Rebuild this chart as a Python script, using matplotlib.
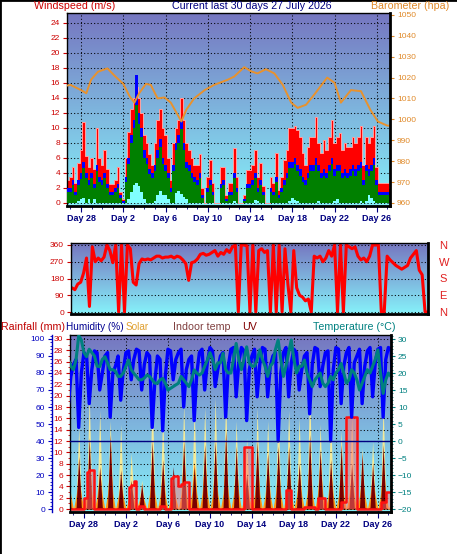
import numpy as np
import matplotlib
matplotlib.use('Agg')
import matplotlib.pyplot as plt
from matplotlib.colors import LinearSegmentedColormap
from matplotlib.lines import Line2D
from matplotlib.ticker import MultipleLocator

plt.rcParams['font.family'] = ['Liberation Sans', 'DejaVu Sans']

# readings every 6 hours (4 per day); first row is two days before "Day 28"
first_day = -2
per_day = 4

day_ticks = [0, 4, 8, 12, 16, 20, 24, 28]
day_labels = ['Day 28', 'Day 2', 'Day 6', 'Day 10', 'Day 14', 'Day 18', 'Day 22', 'Day 26']
compass = ['N', 'E', 'S', 'W', 'N']

# wind (m/s)
gust = [
    3, 3, 3, 3,
    3.5, 4.8, 2.6, 5.3,
    7, 10.8, 6.2, 4.8,
    6, 4.5, 10, 6,
    5, 7, 4.5, 2.5,
    2.5, 3, 4.8, 1.5,
    0.5, 6, 9.5, 12.5,
    14, 15.5, 14, 12,
    9, 8, 6.5, 5,
    8, 11, 12.5, 10,
    9, 6, 3, 8,
    10, 11, 14, 11,
    8, 7, 6, 5,
    5, 6.5, 2, 0,
    3.5, 5.7, 2.6, 0,
    0, 4.8, 4.8, 1,
    2.6, 2.6, 7.3, 3.5,
    0, 0, 1, 4.4,
    4.4, 5, 7, 3.5,
    5.3, 2.2, 0, 0,
    3.5, 2.6, 6.6, 1.7,
    3.5, 5.7, 7, 10,
    10, 10.2, 9.7, 8.8,
    6.6, 5, 7.5, 8.8,
    8.8, 11.5, 8, 6.6,
    8.4, 7, 8.8, 11,
    8, 8.8, 9.3, 7,
    8, 7.5, 7.5, 8.8,
    8, 8.8, 10.2, 5,
    8.8, 8, 8.8, 10.2,
    4.8, 2.6, 2.6, 2.6,
    2.6, 2, 0, 0,
]
wind_avg = [
    2, 2, 2, 2,
    2, 3, 1.5, 3,
    4, 5.5, 4, 3,
    4, 2.5, 5, 3.5,
    3, 4, 2.5, 1.5,
    1.5, 2, 2.5, 1,
    0.3, 3.5, 6, 9,
    11, 17, 12, 10,
    7, 6, 4.5, 4,
    5, 7, 8.5, 6,
    5, 4, 2, 5,
    8, 9, 11, 8,
    5.5, 5, 4, 3.5,
    3, 4, 1, 0,
    2, 3, 1.5, 0,
    0, 2.5, 3, 0.5,
    1.5, 1.5, 4, 2,
    0, 0, 0.5, 2.5,
    2.5, 3, 4, 2,
    3, 1.5, 0, 0,
    2, 1.5, 3.5, 1,
    2, 3, 4, 5.5,
    5.5, 6, 5, 4.5,
    3.5, 3, 4, 5,
    5, 6, 5, 4,
    4.5, 4, 5, 6,
    4.5, 5, 5, 4,
    4.5, 4, 4.5, 5,
    4.5, 5, 5.5, 3,
    5, 4.5, 5, 6,
    3, 1.5, 1.5, 1.5,
    1.5, 1, 0, 0,
]
wind_speed = [
    1.5, 1.5, 1.5, 1.5,
    1.5, 2.4, 1, 2.4,
    3.2, 4.6, 3.3, 2.4,
    3.3, 2, 4.2, 2.8,
    2.4, 3.3, 2, 1,
    1, 1.5, 2, 0.6,
    0, 2.8, 5.2, 8,
    10, 13, 10.5, 8.8,
    6, 5.2, 3.8, 3.3,
    4.2, 6, 7.5, 5.2,
    4.2, 3.3, 1.5, 4.2,
    7, 8, 9.8, 7,
    4.6, 4.2, 3.3, 2.8,
    2.4, 3.3, 0.6, 0,
    1.5, 2.4, 1, 0,
    0, 2, 2.4, 0.3,
    1, 1, 3.3, 1.5,
    0, 0, 0.3, 2,
    2, 2.4, 3.3, 1.5,
    2.4, 1, 0, 0,
    1.5, 1, 2.8, 0.6,
    1.5, 2.4, 3.3, 4.6,
    4.6, 5.2, 4.2, 3.6,
    2.8, 2.4, 3.3, 4.2,
    4.2, 5, 4.2, 3.3,
    3.6, 3.3, 4.2, 5.2,
    3.6, 4.2, 4.2, 3.3,
    3.6, 3.3, 3.6, 4.2,
    3.6, 4.2, 4.6, 2.4,
    4.2, 3.6, 4.2, 5,
    2.4, 1, 1, 1,
    1, 0.6, 0, 0,
]
wind_low = [
    0, 0, 0, 0,
    0, 0, 0, 0.3,
    0.5, 0.6, 0, 0.5,
    0, 0.5, 0, 0,
    0, 0, 0, 0,
    0, 0, 0, 0,
    0, 0, 0.5, 1.5,
    2.4, 2.6, 2.2, 1.5,
    0.5, 0, 0, 0,
    0.3, 1, 1.6, 1,
    1, 0.5, 0, 0,
    1.3, 1.6, 1.2, 0.8,
    0.5, 0, 0, 0,
    0, 0, 0, 0,
    0, 0, 0, 0,
    0, 0, 0, 0,
    0, 0, 0.3, 0,
    0, 0, 0, 0,
    0, 0, 0.4, 0.3,
    0, 0, 0, 0,
    0, 0, 0, 0,
    0, 0, 0, 0.3,
    0.6, 0.4, 0.3, 0,
    0, 0, 0, 0,
    0, 0, 0.3, 0,
    0, 0, 0, 0,
    0.3, 0.5, 0, 0,
    0, 0, 0, 0,
    0, 0, 0.3, 0,
    0.3, 1, 0.6, 0.3,
    0, 0, 0, 0,
    0, 0, 0, 0,
]

# barometer (hpa), read at irregular points
baro_day = [-1.5, -1, 0, 0.5, 0.95, 1.6, 2.5, 3.15, 4, 4.6, 5.05, 5.5, 6.15, 6.6,
            7.25, 7.9, 8.5, 9.5, 9.95, 10.7, 11.7, 12.6, 13.9, 14.5, 15.45, 16.1,
            16.7, 17.5, 18.3, 19.1, 19.9, 20.5, 21.3, 22.1, 23.3, 24.0, 24.6,
            25.55, 26.5, 27.4, 28.1, 29.0, 29.3]
baro_hpa = [1016, 1016.5, 1014, 1012.5, 1019, 1022.8, 1024.4, 1021, 1017, 1011,
            1008, 1012.5, 1017, 1016.5, 1010, 1010.5, 1008, 999, 1004.5, 1010,
            1014, 1016.5, 1019, 1020.5, 1025, 1023, 1022, 1024, 1022, 1016.5,
            1008, 1005.5, 1007, 1012, 1020, 1017.5, 1008, 1014, 1013.5, 1004.5,
            999, 997, 997]

# wind direction (degrees)
wind_dir = [
    130, 130, 130, 130,
    120, 150, 160, 210,
    290, 30, 350, 270,
    290, 275, 295, 360,
    330, 265, 360, 0,
    360, 0, 360, 340,
    160, 145, 260, 285,
    280, 285, 280, 290,
    300, 300, 290, 295,
    295, 300, 290, 300,
    295, 280, 260, 170,
    265, 270, 285, 310,
    315, 305, 310, 320,
    330, 300, 320, 310,
    335, 320, 350, 360,
    0, 360, 360, 355,
    0, 360, 0, 330,
    340, 320, 330, 0,
    360, 0, 360, 0,
    340, 150, 0, 330,
    130, 90, 80, 60,
    70, 0, 300, 290,
    300, 270, 290, 330,
    300, 360, 0, 360,
    0, 360, 350, 340,
    350, 300, 280, 290,
    270, 300, 360, 360,
    360, 0, 0, 300,
    280, 265, 250, 240,
    230, 240, 250, 290,
    310, 330, 225, 200,
    0, 0, 0, 0,
]

# humidity (%)
humidity = [
    88, 90, 60, 78,
    85, 88, 48, 80,
    92, 90, 62, 82,
    93, 92, 70, 80,
    90, 92, 54, 80,
    84, 90, 64, 82,
    92, 93, 76, 88,
    94, 93, 70, 85,
    92, 90, 48, 75,
    90, 88, 46, 78,
    94, 93, 76, 88,
    92, 94, 60, 82,
    88, 90, 52, 80,
    92, 94, 70, 86,
    95, 93, 72, 82,
    90, 92, 54, 84,
    94, 95, 66, 86,
    95, 93, 52, 82,
    90, 94, 66, 85,
    95, 94, 66, 84,
    90, 92, 40, 80,
    92, 95, 66, 86,
    94, 92, 70, 82,
    90, 92, 56, 85,
    95, 94, 72, 84,
    92, 93, 40, 82,
    95, 94, 62, 84,
    92, 95, 54, 86,
    90, 94, 62, 84,
    93, 95, 66, 86,
    94, 95, 54, 88,
    95, 94, 60, 80,
]

# outdoor temperature (C)
temperature = [
    22, 21, 24, 22,
    21, 24, 31, 29.7,
    26, 24.8, 27, 26,
    25, 22, 21.9, 24,
    24.8, 23, 21, 21,
    20.5, 19, 19, 20,
    22, 23.8, 21, 19.9,
    19, 18, 18, 18.5,
    19.4, 19, 18, 17,
    17, 18, 18.4, 17,
    15, 15.5, 16, 16.5,
    17, 19, 18, 17,
    16, 18, 20.9, 20,
    19.4, 20, 22, 23.8,
    26, 24, 21, 23,
    23, 25.8, 21, 20,
    20, 24, 28.7, 24,
    21, 24, 27.7, 23,
    22, 22, 24, 26.8,
    24, 22, 19, 22,
    23, 27, 29.7, 24,
    19, 22, 26, 29.7,
    24, 20, 22, 22,
    23.8, 20, 18, 16,
    18, 19, 20, 17,
    16, 17, 19, 18,
    20, 21, 22.8, 20,
    17, 18, 21, 20,
    18, 15, 17, 19,
    21, 20, 22, 24,
    26.8, 20, 14, 18,
    20, 19, 18, 18,
]

# rainfall (mm)
rain = [
    0, 0, 0, 0,
    0, 0, 0, 0,
    2, 6.5, 6.8, 6.8,
    0, 0, 0, 0,
    0, 0, 0, 0,
    0, 0, 0, 0,
    0, 3.9, 4.2, 5,
    0, 0.5, 0.5, 0,
    0, 0, 0, 0,
    0, 0.6, 0.6, 0,
    0, 5.5, 5.9, 5.9,
    4, 4.5, 4.7, 4.7,
    0, 0, 0, 0,
    0, 0, 0, 0,
    0, 0, 0, 0,
    0, 0, 0, 0,
    0, 0, 0, 0,
    0, 11, 11, 11,
    0, 0, 0, 0,
    0, 0, 0, 0,
    0, 0, 0, 0,
    0, 3.4, 3.4, 0,
    0, 0, 0, 0,
    0.4, 0.4, 0.4, 0.4,
    0, 1.9, 1.9, 1.9,
    0, 0, 0, 0,
    0, 0, 1.2, 1.2,
    16.2, 16.2, 16.2, 16.2,
    0, 0, 0, 0,
    0, 0, 0, 0,
    0, 1.2, 1.2, 3,
    3, 3, 0, 0,
]

# solar and UV, read as height on the 0-100 humidity scale
solar_max = [
    0, 5, 50, 5,
    0, 5, 48, 5,
    0, 5, 68, 5,
    0, 5, 58, 5,
    0, 5, 52, 5,
    0, 5, 50, 5,
    0, 5, 33, 5,
    0, 5, 17, 5,
    0, 5, 70, 5,
    0, 5, 56, 5,
    0, 5, 19, 5,
    0, 5, 62, 5,
    0, 5, 60, 5,
    0, 5, 60, 5,
    0, 5, 66, 5,
    0, 5, 66, 5,
    0, 5, 52, 5,
    0, 5, 42, 5,
    0, 5, 60, 5,
    0, 5, 52, 5,
    0, 5, 62, 5,
    0, 5, 58, 5,
    0, 5, 54, 5,
    0, 5, 72, 5,
    0, 5, 50, 5,
    0, 5, 56, 5,
    0, 5, 46, 5,
    0, 5, 54, 5,
    0, 5, 36, 5,
    0, 5, 40, 5,
    0, 5, 62, 5,
    0, 5, 20, 5,
]
solar = [
    0, 8, 18, 8,
    0, 8, 20, 8,
    0, 9, 26, 9,
    0, 8, 22, 8,
    0, 9, 30, 9,
    0, 7, 16, 7,
    0, 6, 14, 6,
    0, 5, 10, 5,
    0, 9, 30, 9,
    0, 8, 24, 8,
    0, 6, 14, 6,
    0, 9, 32, 9,
    0, 9, 28, 9,
    0, 9, 30, 9,
    0, 9, 30, 9,
    0, 9, 32, 9,
    0, 9, 28, 9,
    0, 7, 18, 7,
    0, 9, 30, 9,
    0, 8, 26, 8,
    0, 9, 28, 9,
    0, 9, 28, 9,
    0, 8, 22, 8,
    0, 9, 32, 9,
    0, 9, 28, 9,
    0, 8, 24, 8,
    0, 8, 26, 8,
    0, 8, 22, 8,
    0, 8, 22, 8,
    0, 8, 20, 8,
    0, 9, 28, 9,
    0, 4, 8, 4,
]
uv = [
    0, 1, 30, 1,
    0, 1, 31, 1,
    0, 1, 42, 1,
    0, 1, 25, 1,
    0, 1, 44, 1,
    0, 1, 23, 1,
    0, 1, 17, 1,
    0, 1, 15, 1,
    0, 1, 40, 1,
    0, 1, 29, 1,
    0, 1, 25, 1,
    0, 1, 40, 1,
    0, 1, 25, 1,
    0, 1, 38, 1,
    0, 1, 40, 1,
    0, 1, 46, 1,
    0, 1, 37, 1,
    0, 1, 21, 1,
    0, 1, 40, 1,
    0, 1, 33, 1,
    0, 1, 37, 1,
    0, 1, 37, 1,
    0, 1, 27, 1,
    0, 1, 44, 1,
    0, 1, 35, 1,
    0, 1, 29, 1,
    0, 1, 38, 1,
    0, 1, 27, 1,
    0, 1, 33, 1,
    0, 1, 27, 1,
    0, 1, 38, 1,
    0, 1, 10, 1,
]

t = first_day + np.arange(len(gust)) / per_day

W, H = 457, 554
fig = plt.figure(figsize=(W / 100, H / 100), dpi=100)
fig.patch.set_facecolor('white')


def box(x0, y0, x1, y1):
    return fig.add_axes([x0 / W, 1 - y1 / H, (x1 - x0) / W, (y1 - y0) / H])


def label(x, y, s, color, size=7.7):
    fig.text(x / W, 1 - y / H, s, color=color, fontsize=size, va='center', ha='left')


sky = LinearSegmentedColormap.from_list('sky', ['#7676c0', '#86f2fa'])
dots = dict(color='black', linestyle=(0, (1, 2.2)), linewidth=0.75)
XLIM = (-1.33, 29.25)


def backdrop(ax):
    ax.imshow(np.linspace(0, 1, 256).reshape(-1, 1), cmap=sky, aspect='auto',
              extent=(0, 1, 0, 1), transform=ax.transAxes, zorder=0)


def day_axis(ax):
    ax.set_xticks(day_ticks, day_labels)
    ax.xaxis.set_minor_locator(MultipleLocator(1))
    ax.tick_params(axis='x', which='both', direction='out', colors='#000080',
                   labelsize=6.5, pad=2)
    ax.tick_params(axis='x', which='major', length=4)
    ax.tick_params(axis='x', which='minor', length=2.5)
    for lb in ax.get_xticklabels():
        lb.set_fontweight('bold')
    ax.xaxis.grid(True, **dots)


def frame(ax, left=1, top=1, bottom=2, right=0):
    for side, w in [('left', left), ('top', top), ('bottom', bottom), ('right', right)]:
        if w:
            ax.spines[side].set_linewidth(w)
            ax.spines[side].set_color('black')
        else:
            ax.spines[side].set_visible(False)


# ---- wind speed / barometer ----
ax1 = box(67, 13, 390, 206)
backdrop(ax1)
ax1.set_axisbelow(True)
ax1.fill_between(t, gust, step='mid', color='#ff0000', lw=0, zorder=2)
ax1.step(t, gust, where='mid', color='#ffa0a0', lw=0.7, zorder=2)
ax1.fill_between(t, wind_avg, step='mid', color='#0000ff', lw=0, zorder=3)
ax1.fill_between(t, wind_speed, step='mid', color='#008000', lw=0, zorder=4)
ax1.fill_between(t, wind_low, step='mid', color='#80ffff', lw=0, zorder=5)
ax1.set_xlim(XLIM)
ax1.set_ylim(-0.4, 25.33)
ax1.set_yticks(range(0, 25, 2))
ax1.yaxis.grid(True, **dots)
ax1.tick_params(axis='y', colors='#cc0000', labelsize=6, length=3, pad=2)
day_axis(ax1)
frame(ax1)

ax1b = ax1.twinx()
ax1b.plot(baro_day, baro_hpa, color='#e8922e', lw=1.4)
ax1b.set_ylim(958.56, 1050.9)
ax1b.set_yticks(range(960, 1051, 10))
ax1b.tick_params(axis='y', colors='#e08a2a', labelsize=6, length=3, pad=2)
frame(ax1b, left=0, top=0, bottom=0, right=2)

# ---- wind direction ----
ax2 = box(71, 243, 428, 314)
backdrop(ax2)
ax2.set_axisbelow(True)
ax2.plot(t, wind_dir, color='#ff0000', lw=2.2, zorder=2)
ax2.set_xlim(XLIM)
ax2.set_ylim(-10.7, 370.7)
ax2.set_yticks([0, 90, 180, 270, 360])
ax2.set_xticks([])
ax2.yaxis.grid(True, **dots)
ax2.tick_params(axis='y', colors='#cc0000', labelsize=6, length=3, pad=2)
frame(ax2)

ax2r = ax2.twinx()
ax2r.set_ylim(ax2.get_ylim())
ax2r.set_yticks([0, 90, 180, 270, 360], compass)
ax2r.tick_params(axis='y', length=0, colors='#e02020', labelsize=8, pad=8)
frame(ax2r, left=0, top=0, bottom=0, right=2)

# ---- humidity / rain / solar / temperature ----
ax3 = box(70, 335, 391, 512)
backdrop(ax3)
ax3.set_axisbelow(True)
ax3.fill_between(t, solar_max, color='#f4ea98', lw=0, zorder=2)
ax3.fill_between(t, solar, color='#ff9818', lw=0, zorder=3)
ax3.fill_between(t, uv, color='#7a0000', lw=0, zorder=4)
ax3.set_xlim(XLIM)
ax3.set_ylim(-1.76, 102.35)
ax3.set_yticks(range(0, 101, 10))
ax3.yaxis.set_minor_locator(MultipleLocator(2))
ax3.tick_params(axis='y', which='both', colors='#0000c0', labelsize=6, pad=2)
ax3.tick_params(axis='y', which='major', length=3)
ax3.tick_params(axis='y', which='minor', length=1.5)
day_axis(ax3)
frame(ax3)
ax3.spines['left'].set_position(('outward', 13))
ax3.spines['left'].set_color('#0000c0')

axr = ax3.twinx()
axr.yaxis.tick_left()
axr.set_axisbelow(True)
axr.fill_between(t, rain, step='post', color='#ff7070', alpha=0.5, lw=0)
axr.step(t, rain, where='post', color='#ff1010', lw=1.8)
axr.set_ylim(-0.528, 30.705)
axr.set_yticks(range(0, 31, 2))
axr.yaxis.set_minor_locator(MultipleLocator(1))
axr.yaxis.grid(True, **dots)
axr.tick_params(axis='y', which='both', colors='#cc0000', labelsize=6, pad=2)
axr.tick_params(axis='y', which='major', length=3)
axr.tick_params(axis='y', which='minor', length=1.5)
frame(axr, left=1, top=0, bottom=0, right=0)

axh = ax3.twinx()
axh.plot(t, humidity, color='#0000ff', lw=2.4)
axh.set_ylim(ax3.get_ylim())
axh.axis('off')

axt = ax3.twinx()
axt.axhline(0, color='#000080', lw=1)
axt.plot(t, temperature, color='#008080', lw=2.2)
axt.set_ylim(-20.88, 31.18)
axt.set_yticks(range(-20, 31, 5))
axt.yaxis.set_minor_locator(MultipleLocator(1))
axt.tick_params(axis='y', which='both', colors='#008080', labelsize=6, pad=2)
axt.tick_params(axis='y', which='major', length=3)
axt.tick_params(axis='y', which='minor', length=1.5)
frame(axt, left=0, top=0, bottom=0, right=2)

# ---- headings ----
label(34, 6, 'Windspeed (m/s)', '#cc0000')
label(172, 6, 'Current last 30 days 27 July 2026', '#000080')
label(371, 6, 'Barometer (hpa)', '#e08a2a')
label(1, 327, 'Rainfall (mm)', '#c00000')
label(66, 327, 'Humidity (%)', '#000090', size=7.2)
label(126, 327, 'Solar', '#e0a030', size=7.2)
label(173, 327, 'Indoor temp', '#804040')
label(242, 327, 'UV', '#800000')
label(313, 327, 'Temperature (°C)', '#008080')

fig.add_artist(Line2D([0, 0], [0, 1], transform=fig.transFigure, color='black', lw=2))
fig.add_artist(Line2D([0, 1], [1, 1], transform=fig.transFigure, color='black', lw=2))

fig.savefig('out.png', dpi=100)
